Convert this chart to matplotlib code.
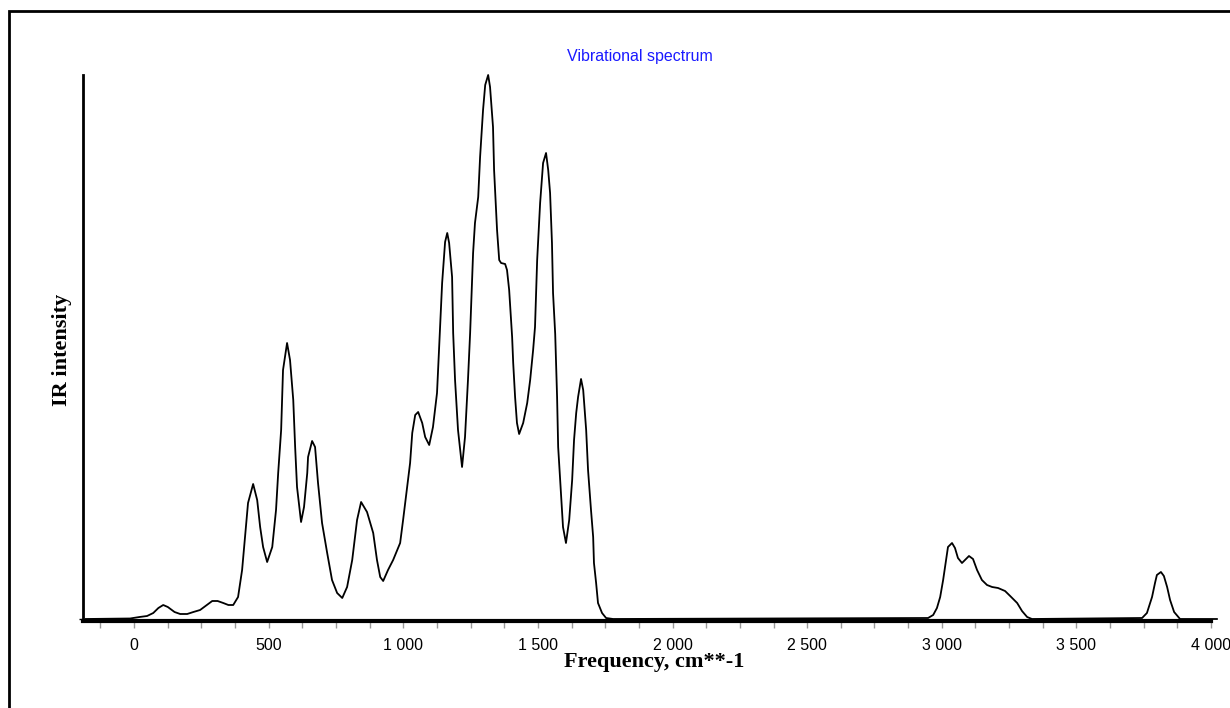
import matplotlib.pyplot as plt
from matplotlib.patches import Rectangle
from matplotlib.ticker import MultipleLocator, FuncFormatter

# Spectrum (frequency in cm**-1, intensity in arb. units)
freq = [-180, -15, 20, 48, 71, 90, 108, 125, 150, 171, 197, 220, 245, 270, 290, 310,
        331, 350, 368, 386, 401, 412, 423,
        442, 457, 468, 479, 494, 513, 527, 535, 546, 553, 568, 579, 591, 598, 605,
        620, 631, 643, 646, 661, 672, 683, 698, 717, 735, 754, 773, 791, 810, 828,
        843, 865, 888, 902, 914, 925, 943, 962, 988, 999, 1014, 1025, 1033, 1044,
        1055, 1070, 1081, 1096, 1110, 1125, 1144, 1155, 1163, 1170, 1181, 1185,
        1192, 1203, 1218, 1229, 1240, 1248, 1259, 1266, 1278, 1285, 1292, 1296,
        1304, 1315, 1322, 1333, 1337, 1344, 1348, 1356, 1363, 1378, 1385, 1393,
        1400, 1404, 1408, 1415, 1422, 1430, 1445, 1460, 1471, 1482, 1489, 1497,
        1508, 1515, 1519, 1530, 1538, 1545, 1552, 1556, 1564, 1571, 1575, 1586,
        1593, 1604, 1616, 1627, 1634, 1642, 1649, 1660, 1668, 1679, 1686, 1697,
        1705, 1708, 1716, 1723, 1738, 1753, 1779,
        2949, 2968, 2982, 2994, 3005, 3016, 3023, 3038, 3049, 3060, 3075, 3086,
        3101, 3116, 3131, 3149, 3168, 3187, 3209, 3235, 3254, 3280, 3298, 3317,
        3335, 3744, 3762, 3781, 3792, 3799, 3814, 3825, 3837, 3848, 3863, 3885,
        4022]
intensity = [0, 0.5, 2, 3, 6, 11, 14, 12, 7, 5, 5, 7, 9, 14, 18, 18,
             16, 14, 14, 22, 49, 82, 116,
             135, 119, 92, 72, 57, 72, 109, 146, 189, 249, 276, 259, 219, 172, 132,
             97, 112, 146, 162, 178, 172, 136, 96, 66, 39, 26, 21, 32, 59, 99,
             117, 107, 86, 59, 42, 38, 49, 59, 76, 99, 132, 156, 186, 204,
             207, 196, 182, 174, 192, 226, 336, 377, 386, 376, 342, 286,
             239, 189, 152, 182, 239, 286, 366, 396, 422, 462, 492, 509,
             534, 544, 532, 492, 449, 412, 389, 359, 356, 355, 349, 329,
             299, 282, 256, 222, 196, 185, 196, 216, 239, 269, 292, 359,
             416, 442, 456, 466, 449, 426, 376, 326, 285, 222, 172, 122,
             92, 76, 99, 139, 179, 206, 222, 240, 229, 189, 149, 109,
             82, 56, 36, 16, 6, 1, 0,
             1, 4, 11, 22, 39, 59, 72, 76, 71, 61, 56, 59,
             63, 60, 49, 39, 34, 32, 31, 28, 23, 16, 8, 2,
             0, 1, 6, 22, 36, 44, 47, 43, 32, 19, 7, 0,
             0]

title = "Vibrational spectrum"
xlabel = "Frequency, cm**-1"
ylabel = "IR intensity"

fig = plt.figure(figsize=(12.3, 7.08), dpi=100)
W, H = 1230, 708

# frame around the picture (runs off the right and bottom edge)
fig.patches.append(Rectangle((9 / W, -0.1), 1.2, 1.1 - 11 / H, transform=fig.transFigure,
                             fill=False, edgecolor='black', lw=2))

ax = fig.add_axes([83 / W, 1 - 621 / H, (1211 - 83) / W, (621 - 75) / H])
ax.plot(freq, intensity, color='black', lw=1.3, clip_on=False)
ax.set_xlim(-190, 4000)
ax.set_ylim(-2, 544)

for s in ['top', 'right']:
    ax.spines[s].set_visible(False)
ax.spines['bottom'].set_linewidth(3)
ax.spines['left'].set_linewidth(2)

ax.set_yticks([0])
ax.set_yticklabels([])
ax.tick_params(axis='y', direction='out', length=3, width=1, color='black')

ax.xaxis.set_major_locator(MultipleLocator(500))
ax.xaxis.set_minor_locator(MultipleLocator(125))
ax.xaxis.set_major_formatter(FuncFormatter(lambda v, p: f"{int(v):,}".replace(",", " ")))
ax.tick_params(axis='x', which='both', direction='out', length=5, width=1, color='#999999',
               labelsize=11.5, pad=7)
for lab in ax.get_xticklabels():
    lab.set_family('Liberation Sans')

fig.text(640 / W, 1 - 57 / H, title, color='#1a1aff', fontsize=11.5,
         family='Liberation Sans', ha='center', va='center')
fig.text(654 / W, 1 - 662 / H, xlabel, fontsize=16, fontweight='bold',
         family='Liberation Serif', ha='center', va='center')
fig.text(62 / W, 1 - 350 / H, ylabel, fontsize=16, fontweight='bold',
         family='Liberation Serif', ha='center', va='center', rotation=90)

fig.savefig('out.png', dpi=100)
